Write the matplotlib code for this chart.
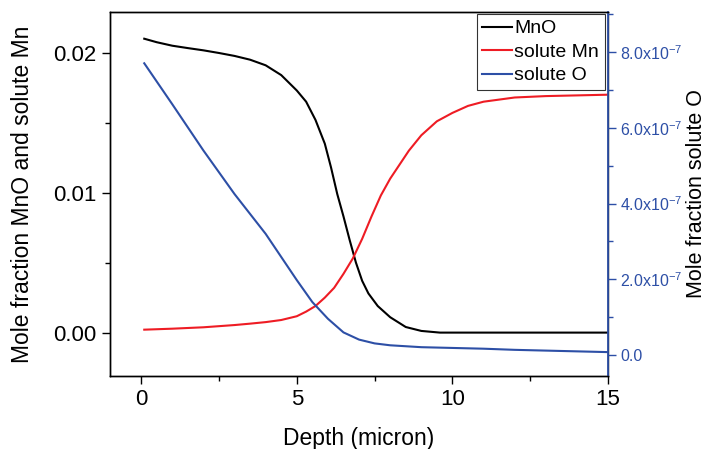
import matplotlib
matplotlib.use("Agg")
import matplotlib.pyplot as plt
from matplotlib.ticker import MultipleLocator, FixedLocator, FixedFormatter

plt.rcParams['font.family'] = ['Liberation Sans', 'DejaVu Sans']
plt.rcParams['mathtext.fontset'] = 'custom'
plt.rcParams['mathtext.rm'] = 'Liberation Sans'
plt.rcParams['mathtext.it'] = 'Liberation Sans'

# MnO (left axis)
mno_x = [0.1, 0.5, 1.0, 1.5, 2.0, 2.5, 3.0, 3.5, 4.0, 4.5, 5.0, 5.3, 5.6, 5.9,
         6.1, 6.3, 6.5, 6.7, 6.9, 7.1, 7.3, 7.6, 8.0, 8.5, 9.0, 9.6, 15.0]
mno_y = [0.0210, 0.02075, 0.0205, 0.02033, 0.02017, 0.01998, 0.01977, 0.0195,
         0.0191, 0.0184, 0.0173, 0.0165, 0.0152, 0.0135, 0.0118, 0.0099, 0.0083,
         0.0066, 0.0050, 0.0037, 0.0028, 0.0019, 0.0011, 0.0004, 0.00012, 0.0, 0.0]

# solute Mn (left axis)
mn_x = [0.1, 1, 2, 3, 3.5, 4, 4.5, 5, 5.3, 5.6, 5.9, 6.2, 6.5, 6.8, 7.1, 7.4,
        7.7, 8.0, 8.3, 8.6, 9.0, 9.5, 10, 10.5, 11, 12, 13, 14, 15]
mn_y = [0.00021, 0.00028, 0.00038, 0.00054, 0.00064, 0.00075, 0.0009, 0.00117,
        0.0015, 0.0019, 0.0025, 0.0032, 0.0042, 0.0053, 0.0067, 0.0083, 0.0098,
        0.0110, 0.0120, 0.0130, 0.0141, 0.0151, 0.0157, 0.0162, 0.0165, 0.0168,
        0.0169, 0.01695, 0.0170]

# solute O (right axis)
o_x = [0.1, 1, 2, 3, 4, 5, 5.5, 6.0, 6.5, 7.0, 7.5, 8, 9, 10, 11, 12, 13, 14, 15]
o_y = [7.70e-7, 6.62e-7, 5.40e-7, 4.25e-7, 3.20e-7, 1.98e-7, 1.40e-7, 0.96e-7,
       0.60e-7, 0.41e-7, 0.31e-7, 0.26e-7, 0.21e-7, 0.19e-7, 0.17e-7, 0.14e-7,
       0.12e-7, 0.10e-7, 0.08e-7]

right_ticks = [0, 2e-7, 4e-7, 6e-7, 8e-7]
right_labels = ['0.0', '2.0x10$^{-7}$', '4.0x10$^{-7}$', '6.0x10$^{-7}$', '8.0x10$^{-7}$']

BLUE = '#2d4fa6'
RED = '#ee1c24'

fig = plt.figure(figsize=(7.07, 4.49), dpi=100)
ax = fig.add_axes([0.1556, 0.1626, 0.7045, 0.8104])
ax2 = ax.twinx()

l1, = ax.plot(mno_x, mno_y, color='black', lw=1.5, label='MnO')
l2, = ax.plot(mn_x, mn_y, color=RED, lw=1.5, label='solute Mn')
l3, = ax2.plot(o_x, o_y, color=BLUE, lw=1.5, label='solute O')

ax.set_xlim(-1, 15)
ax.set_ylim(-0.0031, 0.0229)
ax2.set_ylim(-0.055e-6, 0.905e-6)

ax.xaxis.set_major_locator(MultipleLocator(5))
ax.xaxis.set_minor_locator(MultipleLocator(2.5))
ax.yaxis.set_major_locator(FixedLocator([0, 0.01, 0.02]))
ax.yaxis.set_major_formatter(FixedFormatter(['0.00', '0.01', '0.02']))
ax.yaxis.set_minor_locator(MultipleLocator(0.005))

ax2.yaxis.set_major_locator(FixedLocator(right_ticks))
ax2.yaxis.set_major_formatter(FixedFormatter(right_labels))
ax2.yaxis.set_minor_locator(MultipleLocator(1e-7))

ax.tick_params(which='major', direction='out', length=6, width=1, labelsize=16)
ax.tick_params(which='minor', direction='out', length=3.5, width=1)
ax2.tick_params(which='major', direction='out', length=6, width=1, pad=2.5,
                labelsize=11.5, colors=BLUE)
ax2.tick_params(which='minor', direction='out', length=3.5, width=1, colors=BLUE)

for a in (ax, ax2):
    for s in a.spines.values():
        s.set_linewidth(1)
ax2.spines['right'].set_color(BLUE)
ax2.spines['right'].set_linewidth(1.3)

ax.set_xlabel('Depth (micron)', fontsize=16.5, labelpad=12)
ax.set_ylabel('Mole fraction MnO and solute Mn', fontsize=16.5, labelpad=14)
ax2.set_ylabel('Mole fraction solute O', fontsize=15.5, labelpad=3)

leg = ax2.legend(handles=[l1, l2, l3], loc='upper right',
                 bbox_to_anchor=(605 / 707, 1 - 14 / 449),
                 bbox_transform=fig.transFigure, fontsize=14, frameon=True,
                 fancybox=False, edgecolor='black', handlelength=1.55,
                 handletextpad=0.1, borderpad=0.3, labelspacing=0.3,
                 borderaxespad=0)
leg.get_frame().set_linewidth(0.8)

fig.savefig('out.png', dpi=100)
